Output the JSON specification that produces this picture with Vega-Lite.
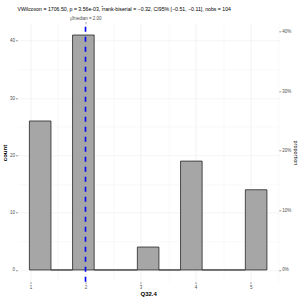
{
  "$schema": "https://vega.github.io/schema/vega-lite/v6.json",
  "width": 261.3,
  "height": 258.4,
  "autosize": {"type": "none"},
  "padding": {"left": 17.5, "top": 23.3, "right": 20.2, "bottom": 17.3},
  "background": "white",
  "title": {
    "text": "VWilcoxon = 1706.50, p = 3.56e-03, r̂rank-biserial = −0.32, CI95% [−0.51, −0.11], nobs = 104",
    "anchor": "start",
    "frame": "group",
    "font": "Liberation Sans",
    "fontSize": 5.2,
    "fontWeight": "normal",
    "color": "black",
    "offset": 3
  },
  "config": {
    "view": {"stroke": null},
    "font": "Liberation Sans",
    "axis": {
      "domain": false,
      "tickColor": "#333333",
      "tickWidth": 0.5,
      "tickSize": 2,
      "labelFontSize": 4.5,
      "labelColor": "#4d4d4d",
      "labelPadding": 1,
      "gridColor": "#ebebeb",
      "titleFont": "Liberation Sans",
      "titleColor": "#000000"
    }
  },
  "layer": [
    {
      "data": {
        "values": [
          {"bin_start": 0.9806, "bin_end": 1.3729, "count": 26},
          {"bin_start": 1.3729, "bin_end": 1.7651, "count": 0},
          {"bin_start": 1.7651, "bin_end": 2.1573, "count": 41},
          {"bin_start": 2.1573, "bin_end": 2.5496, "count": 0},
          {"bin_start": 2.5496, "bin_end": 2.9418, "count": 0},
          {"bin_start": 2.9418, "bin_end": 3.3341, "count": 4},
          {"bin_start": 3.3341, "bin_end": 3.7263, "count": 0},
          {"bin_start": 3.7263, "bin_end": 4.1186, "count": 19},
          {"bin_start": 4.1186, "bin_end": 4.5108, "count": 0},
          {"bin_start": 4.5108, "bin_end": 4.9031, "count": 0},
          {"bin_start": 4.9031, "bin_end": 5.2953, "count": 14}
        ]
      },
      "mark": {"type": "bar", "fill": "#a6a6a6", "stroke": "#262626", "strokeWidth": 0.8},
      "encoding": {
        "x": {
          "field": "bin_start",
          "type": "quantitative",
          "scale": {"domain": [0.7649, 5.511], "nice": false, "zero": false},
          "axis": {
            "orient": "bottom",
            "values": [1, 1.5, 2, 2.5, 3, 3.5, 4, 4.5, 5, 5.5],
            "labelExpr": "datum.value % 1 === 0 ? format(datum.value, 'd') : ''",
            "tickOpacity": {"condition": {"test": "datum.value % 1 === 0", "value": 1}, "value": 0},
            "gridWidth": {"condition": {"test": "datum.value % 1 === 0", "value": 0.6}, "value": 0.3},
            "grid": true,
            "title": "Q32.4",
            "titleColor": "#000000",
            "titleFontSize": 6,
            "titleFontWeight": "bold",
            "titlePadding": 1
          }
        },
        "x2": {"field": "bin_end"},
        "y": {
          "field": "count",
          "type": "quantitative",
          "scale": {"domain": [-2.05, 43.05], "nice": false, "zero": false},
          "axis": {
            "orient": "left",
            "values": [0, 5, 10, 15, 20, 25, 30, 35, 40],
            "labelExpr": "datum.value % 10 === 0 ? format(datum.value, 'd') : ''",
            "tickOpacity": {"condition": {"test": "datum.value % 10 === 0", "value": 1}, "value": 0},
            "gridWidth": {"condition": {"test": "datum.value % 10 === 0", "value": 0.6}, "value": 0.3},
            "grid": true,
            "title": "count",
            "titleColor": "#000000",
            "titleFontSize": 6,
            "titleFontWeight": "bold",
            "titlePadding": 2
          }
        },
        "y2": {"datum": 0}
      }
    },
    {
      "data": {"values": [{"median": 2}]},
      "mark": {"type": "rule", "color": "#0000ff", "strokeDash": [5, 5], "strokeWidth": 1.6},
      "encoding": {
        "x": {
          "field": "median",
          "type": "quantitative",
          "axis": {
            "orient": "top",
            "values": [2],
            "labelExpr": "'μ̂median = 2.00'",
            "grid": false,
            "title": null,
            "labelFontSize": 4.5
          }
        },
        "y": {
          "datum": -2.05,
          "type": "quantitative",
          "axis": {
            "orient": "right",
            "values": [0, 10.4, 20.8, 31.2, 41.6],
            "labelExpr": "format(datum.value / 104, '.0%')",
            "grid": false,
            "title": "proportion",
            "titleColor": "#000000",
            "titleFontSize": 5.5,
            "titleFontWeight": "normal",
            "titlePadding": 2
          }
        },
        "y2": {"datum": 43.05}
      }
    }
  ],
  "resolve": {"axis": {"x": "independent", "y": "independent"}}
}
